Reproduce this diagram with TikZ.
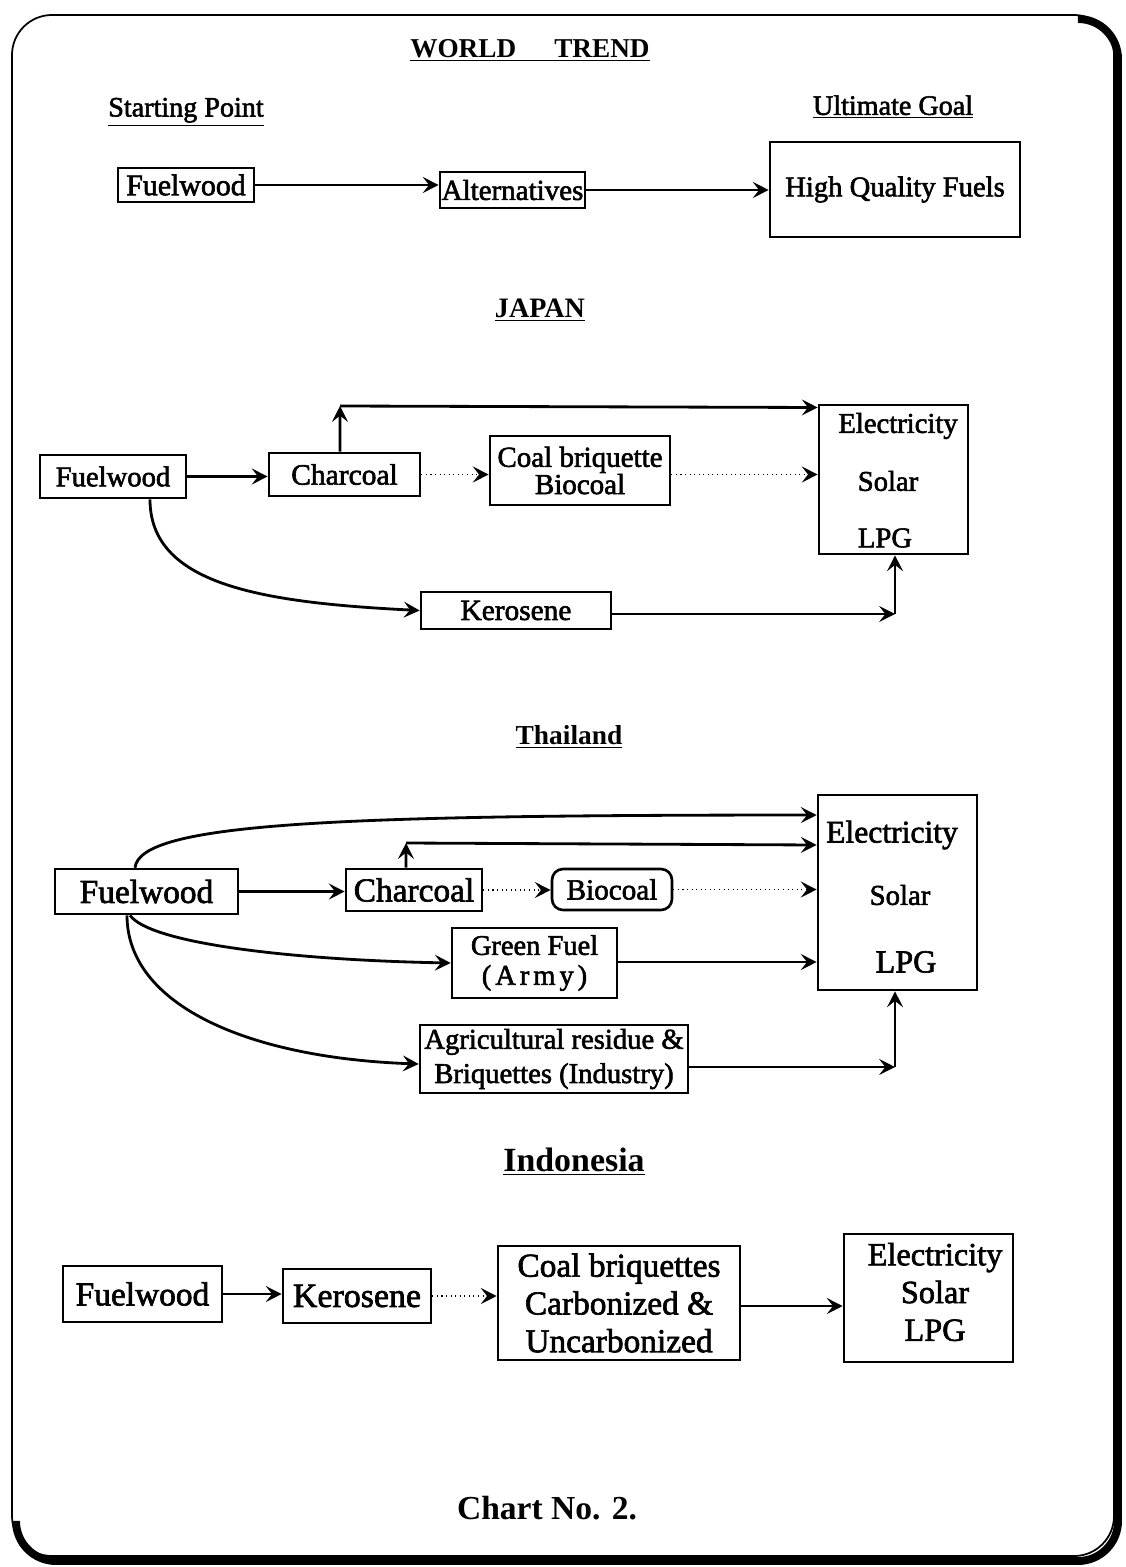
\documentclass[tikz,border=0pt]{standalone}
\usepackage{fontspec}
\setmainfont{Liberation Serif}
\newfontfamily\thk{Liberation Serif}[FakeBold=2]
\usetikzlibrary{arrows.meta,calc}
\tikzset{
  box/.style={draw, line width=1.5pt, inner sep=0pt, font=\thk},
  lbl/.style={inner sep=0pt, font=\thk},
  ttl/.style={inner sep=0pt, font=\bfseries},
  arr/.style={line width=1.6pt, -{Stealth[length=9pt,width=9pt,inset=3.5pt]}},
  dotarr/.style={line width=0.6pt, dotted, -{Stealth[length=9pt,width=9pt,inset=3.5pt,line width=1.5pt]}},
  ln/.style={line width=1.6pt}
}
\newcommand{\fs}[1]{\fontsize{#1}{#1}\selectfont}
\begin{document}
\begin{tikzpicture}[x=0.02cm,y=-0.02cm]
\useasboundingbox (0,0) rectangle (1125,1567);
% frame
\draw[line width=1pt, rounded corners=0.8cm] (12,15) rectangle (1114,1556);
\draw[line width=4.5pt, rounded corners=0.8cm] (1080,19) -- (1118,19) -- (1118,1561) -- (16,1561) -- (16,1525);

% ---------------- WORLD TREND
\node[ttl] (tw) at (530,50) {\fs{15.5}\underline{WORLD\hspace{1.4em}TREND}};
\node[lbl] (sp) at (186,112) {\fs{16}\underline{Starting Point}};
\node[lbl] (ug) at (893,107) {\fs{16}\underline{Ultimate Goal}};
\node[box, minimum width=2.72cm, minimum height=0.68cm] (wF) at (186,185) {\fs{17}Fuelwood};
\node[box, minimum width=2.9cm, minimum height=0.72cm] (wA) at (512.5,190) {\fs{16.5}Alternatives};
\node[box, minimum width=5cm, minimum height=1.9cm] (wH) at (895,189.5) {\fs{16.3}High Quality Fuels};
\draw[arr] (wF.east) -- (wF.east -| wA.west);
\draw[arr] (wA.east) -- (wA.east -| wH.west);

% ---------------- JAPAN
\node[ttl] (tj) at (540,310) {\fs{16}\underline{JAPAN}};
\node[box, minimum width=2.92cm, minimum height=0.86cm] (jF) at (113,476.5) {\fs{16.3}Fuelwood};
\node[box, minimum width=3.02cm, minimum height=0.86cm] (jC) at (344.5,474.5) {\fs{16.8}Charcoal};
\node[box, minimum width=3.6cm, minimum height=1.38cm, align=center, font={\thk\fontsize{16.5}{15.5}\selectfont}] (jB) at (580,470.5) {Coal briquette\\Biocoal};
\node[box, minimum width=2.98cm, minimum height=2.98cm] (jE) at (893.5,479.5) {};
\node[lbl] (jE1) at (898,426) {\fs{16.3}Electricity};
\node[lbl] (jE2) at (888,481) {\fs{16.3}Solar};
\node[lbl] (jE3) at (885,538) {\fs{16.3}LPG};
\node[box, minimum width=3.8cm, minimum height=0.74cm] (jK) at (516,610.5) {\fs{16.7}Kerosene};
\coordinate (jc1) at (340,406);
\coordinate (jk1) at (895,614);
\draw[arr] (jF.east) -- (jF.east -| jC.west);
\draw[dotarr] (jC.east) -- (jC.east -| jB.west);
\draw[dotarr] (jB.east |- jC.east) -- (jC.east -| jE.west);
\draw[arr] ([xshift=-0.09cm]jC.north) -- (jc1);
\draw[arr] (jc1) -- ([yshift=-0.03cm]jc1 -| jE.west);
\draw[arr] ([xshift=0.74cm]jF.south) .. controls +(0,85) and +(-160,-8) .. (jK.west);
\draw[arr] (jK.east |- jk1) -- (jk1);
\draw[arr] (jk1) -- (jk1 |- jE.south);

% ---------------- THAILAND
\node[ttl] (tt) at (569,737) {\fs{15.6}\underline{Thailand}};
\node[box, minimum width=3.66cm, minimum height=0.9cm] (tF) at (146.5,891.5) {\fs{19}Fuelwood};
\node[box, minimum width=2.72cm, minimum height=0.84cm] (tC) at (414,890) {\fs{19}Charcoal};
\node[box, rounded corners=0.22cm, minimum width=2.4cm, minimum height=0.82cm] (tB) at (612,889.5) {\fs{16.6}Biocoal};
\node[box, minimum width=3.18cm, minimum height=3.9cm] (tE) at (897.5,892.5) {};
\node[lbl] (tE1) at (892,835) {\fs{18}Electricity};
\node[lbl] (tE2) at (900,895) {\fs{16.4}Solar};
\node[lbl] (tE3) at (906,962) {\fs{18.3}LPG};
\node[box, minimum width=3.3cm, minimum height=1.4cm, align=center, font={\thk\fontsize{16.2}{17}\selectfont}] (tG) at (534.5,963) {Green Fuel\\{\addfontfeatures{LetterSpace=14}(Army)}};
\node[box, minimum width=5.36cm, minimum height=1.36cm, align=center, font={\thk\fontsize{16.3}{19.5}\selectfont}] (tA) at (554,1059) {Agricultural residue \&\\Briquettes (Industry)};
\coordinate (tc1) at (406,843);
\coordinate (ta1) at (895,1067);
\draw[arr] (tF.east) -- (tF.east -| tC.west);
\draw[dotarr] (tC.east) -- (tC.east -| tB.west);
\draw[dotarr] (tB.east) -- (tB.east -| tE.west);
\draw[arr] ([xshift=-0.16cm]tC.north) -- (tc1);
\draw[arr] (tc1) -- ([yshift=-0.04cm]tc1 -| tE.west);
\draw[arr] ([xshift=-0.23cm]tF.north) .. controls +(5,-45) and +(-480,0) .. ([yshift=1.55cm]tE.west);
\draw[arr] ([xshift=-0.33cm]tF.south) .. controls +(20,28) and +(-160,-3) .. (tG.west);
\draw[arr] ([xshift=-0.39cm]tF.south) .. controls +(0,90) and +(-170,-6) .. ([yshift=-0.1cm]tA.west);
\draw[arr] (tG.east |- tE3) -- (tE3 -| tE.west);
\draw[arr] (tA.east |- ta1) -- (ta1);
\draw[arr] (ta1) -- (ta1 |- tE.south);

% ---------------- INDONESIA
\node[ttl] (ti) at (574,1162) {\fs{19.3}\underline{Indonesia}};
\node[box, minimum width=3.18cm, minimum height=1.12cm] (iF) at (142.5,1294) {\fs{19}Fuelwood};
\node[box, minimum width=2.96cm, minimum height=1.08cm] (iK) at (357,1296) {\fs{19.3}Kerosene};
\node[box, minimum width=4.84cm, minimum height=2.28cm, align=center, font={\thk\fontsize{19}{21.5}\selectfont}] (iC) at (619,1303) {Coal briquettes\\Carbonized \&\\Uncarbonized};
\node[box, minimum width=3.38cm, minimum height=2.56cm] (iE) at (928.5,1298) {};
\node[lbl, align=center, font={\thk\fontsize{18.4}{21.5}\selectfont}] (iE1) at (935,1292) {Electricity\\Solar\\LPG};
\draw[arr] (iF.east) -- (iF.east -| iK.west);
\draw[dotarr] (iK.east) -- (iK.east -| iC.west);
\draw[arr] ([yshift=-0.06cm]iC.east) -- ([yshift=-0.06cm]iC.east -| iE.west);

\node[ttl] (chart) at (547,1508) {\fs{19.1}Chart No. 2.};
\end{tikzpicture}
\end{document}
